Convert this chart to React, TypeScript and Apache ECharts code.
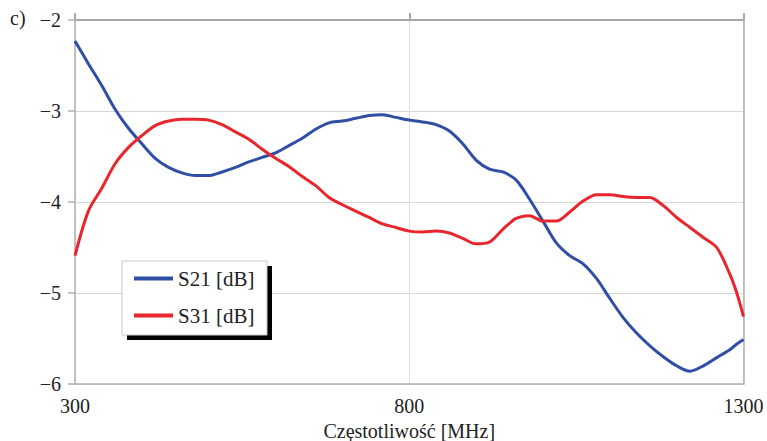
import React, { useEffect, useRef } from "react";
import * as echarts from "echarts";

const freqs = [300, 320, 340, 360, 380, 400, 420, 440, 460, 480, 500, 520, 540, 560, 580, 600, 620, 640, 660, 680, 700, 720, 740, 760, 780, 800, 820, 840, 860, 880, 900, 920, 940, 960, 980, 1000, 1020, 1040, 1060, 1080, 1100, 1120, 1140, 1160, 1180, 1200, 1220, 1240, 1260, 1280, 1290, 1300];

const s21 = [-2.23, -2.48, -2.72, -2.98, -3.19, -3.36, -3.52, -3.62, -3.68, -3.71, -3.71, -3.67, -3.62, -3.56, -3.51, -3.46, -3.38, -3.3, -3.2, -3.13, -3.11, -3.08, -3.05, -3.04, -3.07, -3.1, -3.12, -3.15, -3.22, -3.36, -3.54, -3.64, -3.67, -3.76, -3.97, -4.21, -4.45, -4.59, -4.68, -4.84, -5.06, -5.27, -5.44, -5.58, -5.7, -5.8, -5.86, -5.8, -5.71, -5.62, -5.56, -5.51];

const s31 = [-4.59, -4.1, -3.85, -3.58, -3.4, -3.27, -3.16, -3.11, -3.09, -3.09, -3.1, -3.15, -3.23, -3.31, -3.42, -3.52, -3.61, -3.72, -3.82, -3.95, -4.03, -4.1, -4.17, -4.24, -4.28, -4.32, -4.33, -4.32, -4.34, -4.4, -4.46, -4.44, -4.3, -4.18, -4.15, -4.21, -4.21, -4.11, -3.99, -3.92, -3.92, -3.94, -3.95, -3.95, -4.04, -4.17, -4.28, -4.39, -4.5, -4.8, -5.0, -5.26];

const seriesNames = ["S21 [dB]", "S31 [dB]"];
const xTitle = "Częstotliwość [MHz]";
const panelLabel = "c)";

const FONT = "'Liberation Serif', 'Times New Roman', serif";

export default function App() {
  const ref = useRef<HTMLDivElement>(null);
  useEffect(() => {
    if (!ref.current) return;
    const chart = echarts.init(ref.current, undefined, { renderer: "svg" });
    const toPairs = (ys: number[]) => freqs.map((f, i) => [f, ys[i]]);
    chart.setOption({
      animation: false,
      backgroundColor: "#ffffff",
      textStyle: { fontFamily: FONT },
      grid: { left: 75, top: 20, width: 668.5, height: 364, containLabel: false, outerBoundsMode: "none" },
      xAxis: [
        {
          type: "value",
          min: 300,
          max: 1300,
          interval: 500,
          position: "bottom",
          name: xTitle,
          nameLocation: "middle",
          nameGap: 35,
          nameTextStyle: { fontFamily: FONT, fontSize: 20, color: "#222" },
          axisLine: { show: true, lineStyle: { color: "#b0b0b0", width: 1.5 } },
          axisTick: { show: false },
          axisLabel: { fontFamily: FONT, fontSize: 20, color: "#222", margin: 12, formatter: (v: number) => String(v) },
          splitLine: { show: true, lineStyle: { color: "#dedede", width: 1 } },
        },
        {
          type: "value",
          min: 300,
          max: 1300,
          interval: 500,
          position: "top",
          axisLine: { show: true, lineStyle: { color: "#a8a8a8", width: 2 } },
          axisTick: { show: true, inside: false, length: 7, lineStyle: { color: "#a8a8a8", width: 2 } },
          axisLabel: { show: false },
          splitLine: { show: false },
        },
      ],
      yAxis: [
        {
          type: "value",
          min: -6,
          max: -2,
          interval: 1,
          position: "left",
          axisLine: { show: true, lineStyle: { color: "#b0b0b0", width: 1.5 } },
          axisTick: { show: true, inside: false, length: 7, lineStyle: { color: "#b0b0b0", width: 1.5 } },
          axisLabel: {
            fontFamily: FONT,
            fontSize: 20,
            color: "#222",
            margin: 14,
            formatter: (v: number) => (v < 0 ? "\u2212" + Math.abs(v) : String(v)),
          },
          splitLine: { show: true, lineStyle: { color: "#d6d6d6", width: 1 } },
        },
        {
          type: "value",
          min: -6,
          max: -2,
          interval: 1,
          position: "right",
          axisLine: { show: true, lineStyle: { color: "#b0b0b0", width: 1.5 } },
          axisTick: { show: false },
          axisLabel: { show: false },
          splitLine: { show: false },
        },
      ],
      legend: {
        left: 122,
        top: 260,
        orient: "vertical",
        padding: [8, 12, 8, 12],
        itemGap: 16,
        itemWidth: 39,
        itemHeight: 4,
        textStyle: { fontFamily: FONT, fontSize: 21, color: "#222" },
        data: seriesNames.map((n) => ({ name: n, icon: "rect" })),
        z: 6,
      },
      graphic: [
        {
          type: "rect",
          z: 4,
          shape: { x: 127, y: 266, width: 145, height: 74 },
          style: { fill: "#000000" },
        },
        {
          type: "rect",
          z: 5,
          shape: { x: 122, y: 261, width: 145, height: 74 },
          style: { fill: "#ffffff", stroke: "#c8c8c8", lineWidth: 1 },
        },
        {
          type: "text",
          left: 10,
          top: 8,
          style: { text: panelLabel, fontFamily: FONT, fontSize: 20, fill: "#222" },
        },
      ],
      series: [
        {
          name: seriesNames[0],
          type: "line",
          data: toPairs(s21),
          symbol: "none",
          smooth: 0.3,
          itemStyle: { color: "#2f4fa5" },
          lineStyle: { color: "#2f4fa5", width: 3 },
          z: 3,
        },
        {
          name: seriesNames[1],
          type: "line",
          data: toPairs(s31),
          symbol: "none",
          smooth: 0.3,
          itemStyle: { color: "#e8262d" },
          lineStyle: { color: "#e8262d", width: 3 },
          z: 3,
        },
      ],
    });
    return () => chart.dispose();
  }, []);
  return <div ref={ref} style={{ position: "absolute", left: 0, top: 0, width: 767, height: 441 }} />;
}
